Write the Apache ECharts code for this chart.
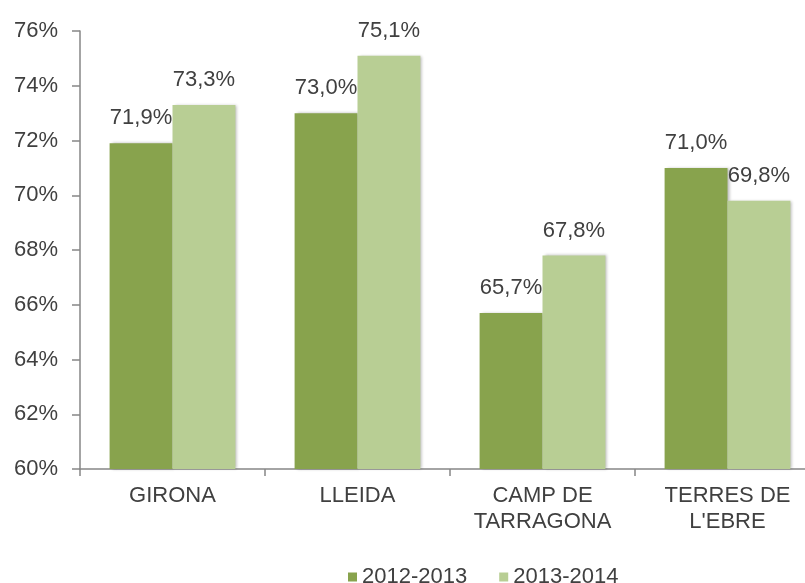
<!DOCTYPE html>
<html>
<head>
<meta charset="utf-8">
<script src="https://cdn.jsdelivr.net/npm/echarts@6/dist/echarts.min.js"></script>
<style>
html,body{margin:0;padding:0;background:#fff;overflow:hidden;width:805px;height:583px;}
#chart{width:820px;height:583px;}
</style>
</head>
<body>
<div id="chart"></div>
<script>
const categories = ['GIRONA', 'LLEIDA', 'CAMP DE\nTARRAGONA', 'TERRES DE\nL\'EBRE'];
const seriesNames = ['2012-2013', '2013-2014'];
const values2012 = [71.9, 73.0, 65.7, 71.0];
const values2013 = [73.3, 75.1, 67.8, 69.8];
const yMin = 60, yMax = 76, yStep = 2;

const FONT = '"Liberation Sans", Arial, sans-serif';
const TXT = '#404040';
const FS = 22;
const fmt = v => v.toFixed(1).replace('.', ',') + '%';

const chart = echarts.init(document.getElementById('chart'), null, {renderer: 'canvas'});
const barLabel = {
  show: true, position: 'top', distance: 14,
  color: TXT, fontFamily: FONT, fontSize: FS,
  formatter: p => fmt(p.value)
};
const shadow = {shadowColor: 'rgba(0,0,0,0.28)', shadowBlur: 3, shadowOffsetX: 2, shadowOffsetY: 0};
chart.setOption({
  animation: false,
  backgroundColor: '#fff',
  grid: {left: 80, top: 31, right: 0, bottom: 114, containLabel: false},
  legend: {
    data: seriesNames,
    left: 343, top: 561,
    icon: 'rect', itemWidth: 9, itemHeight: 9, itemGap: 32,
    textStyle: {color: TXT, fontFamily: FONT, fontSize: FS, padding: [0, 0, 0, 0]}
  },
  xAxis: {
    type: 'category',
    data: categories,
    axisLine: {lineStyle: {color: '#868686', width: 1.5}},
    axisTick: {show: true, length: 7, lineStyle: {color: '#868686', width: 1.5}},
    axisLabel: {color: TXT, fontFamily: FONT, fontSize: FS, lineHeight: 26, margin: 14, interval: 0}
  },
  yAxis: {
    type: 'value', min: yMin, max: yMax, interval: yStep,
    axisLine: {show: true, lineStyle: {color: '#868686', width: 1.5}},
    axisTick: {show: true, length: 8, lineStyle: {color: '#868686', width: 1.5}},
    splitLine: {show: false},
    axisLabel: {color: TXT, fontFamily: FONT, fontSize: FS, margin: 22, formatter: v => v + '%'}
  },
  series: [
    {name: seriesNames[0], type: 'bar', data: values2012, barGap: '0%', barCategoryGap: '32%',
     itemStyle: Object.assign({color: '#88A34D'}, shadow), label: barLabel},
    {name: seriesNames[1], type: 'bar', data: values2013, barGap: '0%', barCategoryGap: '32%',
     itemStyle: Object.assign({color: '#B8CE94'}, shadow), label: barLabel}
  ]
});
</script>
</body>
</html>
